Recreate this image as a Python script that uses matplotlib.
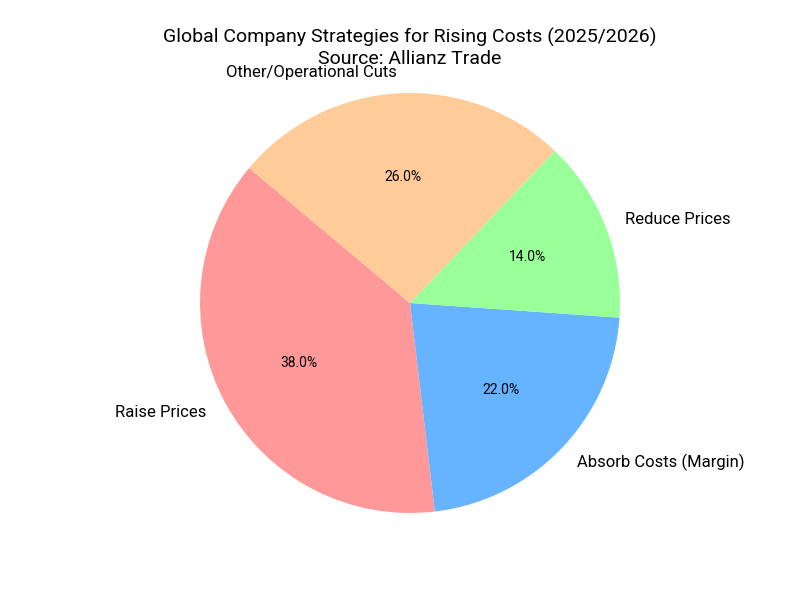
import matplotlib
matplotlib.use("Agg")
import matplotlib.pyplot as plt

plt.rcParams["font.family"] = ["Roboto", "DejaVu Sans"]

labels = ["Raise Prices", "Absorb Costs (Margin)", "Reduce Prices", "Other/Operational Cuts"]
shares = [38, 22, 14, 26]
colors = ["#ff9999", "#66b3ff", "#99ff99", "#ffcc99"]

fig, ax = plt.subplots(figsize=(8, 6), dpi=100)
wedges, texts, autotexts = ax.pie(
    shares, labels=labels, colors=colors, autopct="%1.1f%%", startangle=140,
    textprops={"fontsize": 12},
)
for t in autotexts:
    t.set_fontsize(10)
ax.axis("equal")
ax.set_title("Global Company Strategies for Rising Costs (2025/2026)\nSource: Allianz Trade",
             fontsize=14)

fig.savefig("out.png")
